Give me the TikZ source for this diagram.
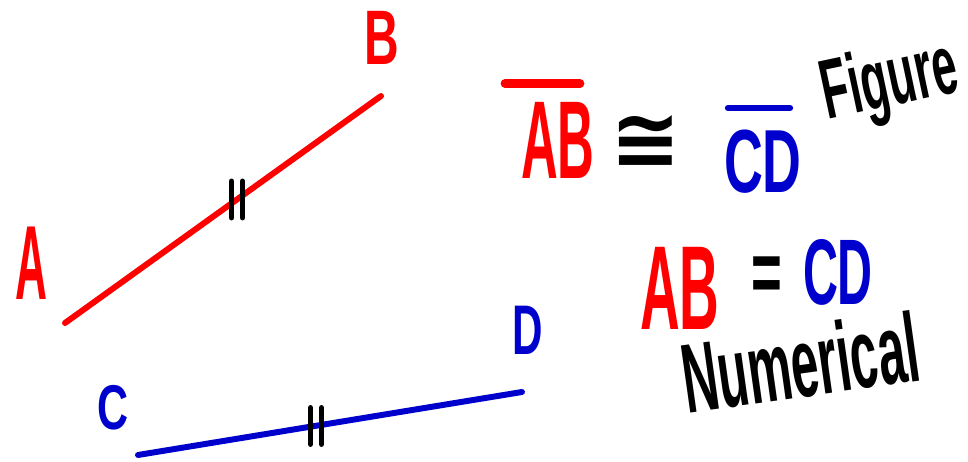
\documentclass[tikz,border=0pt]{standalone}
\usepackage{graphicx}
\usepackage{fontspec}
\setmainfont{Liberation Sans}
\newfontfamily\symfont{DejaVu Sans}
\usetikzlibrary{calc}

\definecolor{penred}{RGB}{255,0,0}
\definecolor{penblue}{RGB}{0,0,205}

% narrow handwriting-like letters
\newcommand{\handw}[2]{\scalebox{#1}[1]{#2}}

\begin{document}
\begin{tikzpicture}[
    seg/.style={line width=3.4pt, line cap=round},
    tickmark/.style={black, line width=3.4pt, line cap=round},
    bar/.style={line width=3.6pt, line cap=round},
    lbl/.style={inner sep=0pt}
]
    \useasboundingbox (0,0) rectangle (19.36,9.24);

    % --- Points ---
    \coordinate (pA) at (1.30, 2.78);
    \coordinate (pB) at (7.62, 7.32);
    \coordinate (pC) at (2.76, 0.14);
    \coordinate (pD) at (10.44, 1.40);

    % --- Segments ---
    \draw[seg, penred] (pA) -- (pB);
    \draw[seg, penblue] (pC) -- (pD);

    % --- Tick marks ---
    \coordinate (mAB) at (4.74, 5.25);
    \coordinate (mCD) at (6.32, 0.72);
    \foreach \m in {mAB, mCD} {
        \draw[tickmark] ($(\m)+(-0.11,-0.36)$) -- ($(\m)+(-0.11,0.36)$);
        \draw[tickmark] ($(\m)+(0.11,-0.36)$) -- ($(\m)+(0.11,0.36)$);
    }

    % --- Point labels ---
    \node[lbl, penred, font=\bfseries\fontsize{60}{64}\selectfont] (labA) at (0.62, 3.98) {\handw{0.42}{A}};
    \node[lbl, penred, font=\bfseries\fontsize{44}{48}\selectfont] (labB) at (7.64, 8.48) {\handw{0.62}{B}};
    \node[lbl, penblue, font=\bfseries\fontsize{36}{40}\selectfont] (labC) at (2.26, 1.08) {\handw{0.68}{C}};
    \node[lbl, penblue, font=\bfseries\fontsize{40}{44}\selectfont] (labD) at (10.56, 2.64) {\handw{0.6}{D}};

    % --- Congruence ---
    \node[lbl, penred, font=\bfseries\fontsize{63}{66}\selectfont] (segAB) at (11.16, 6.44) {\handw{0.46}{AB}};
    \draw[bar, penred, line width=5pt] ([xshift=-1.06cm, yshift=0.36cm]segAB.north) -- ([xshift=0.44cm, yshift=0.36cm]segAB.north);
    \node[lbl, font=\symfont\bfseries\fontsize{48}{50}\selectfont] (cong) at (12.92, 6.40) {≅};
    \node[lbl, penblue, font=\bfseries\fontsize{51}{54}\selectfont] (segCD) at (15.26, 6.00) {\handw{0.6}{CD}};
    \draw[bar, penblue] ([xshift=-0.70cm, yshift=0.44cm]segCD.north) -- ([xshift=0.54cm, yshift=0.44cm]segCD.north);
    \node[lbl, rotate=12, font=\bfseries\fontsize{48}{50}\selectfont] (fig) at (17.80, 7.56) {\handw{0.53}{Figure}};

    % --- Equal lengths ---
    \node[lbl, penred, font=\bfseries\fontsize{68}{70}\selectfont] (lenAB) at (13.60, 3.48) {\handw{0.46}{AB}};
    \node[lbl, font=\bfseries\fontsize{50}{52}\selectfont] (eq) at (15.34, 3.64) {\handw{0.6}{=}};
    \node[lbl, penblue, font=\bfseries\fontsize{53}{56}\selectfont] (lenCD) at (16.76, 3.80) {\handw{0.52}{CD}};
    \node[lbl, rotate=8, font=\bfseries\fontsize{56}{58}\selectfont] (num) at (16.00, 2.00) {\handw{0.5}{Numerical}};

\end{tikzpicture}
\end{document}
